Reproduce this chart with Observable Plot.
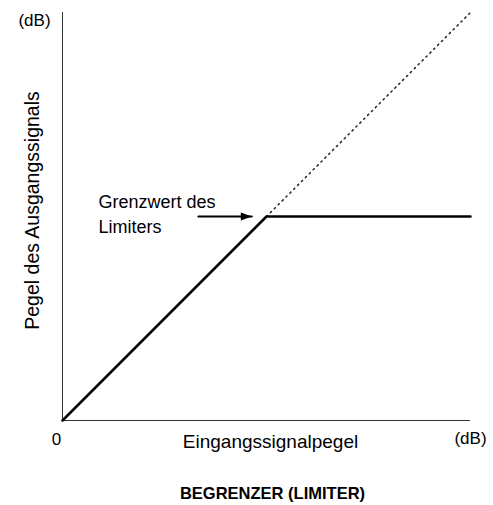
<!DOCTYPE html>
<html>
<head>
<meta charset="utf-8">
<script src="https://cdn.jsdelivr.net/npm/d3@7"></script>
<script src="https://cdn.jsdelivr.net/npm/@observablehq/plot@0.6"></script>
<style>
  html, body { margin: 0; padding: 0; background: #fff; }
</style>
</head>
<body>
<div id="chart"></div>
<script>
// Transfer curve of the limiter (input level -> output level, relative units)
const limiterInput  = [0, 50, 100];
const limiterOutput = [0, 50, 50];
// Unlimited (1:1) continuation above threshold
const unityInput  = [50, 100];
const unityOutput = [50, 100];
// Threshold point and annotation arrow
const thresholdInput = 50, thresholdOutput = 50;
const arrowStartInput = 33.3, arrowEndInput = 46.4;
const labels = {
  yTitle: "Pegel des Ausgangssignals",
  xTitle: "Eingangssignalpegel",
  unit: "(dB)",
  zero: "0",
  annotation: "Grenzwert des\nLimiters",
  title: "BEGRENZER (LIMITER)"
};

const curve = limiterInput.map((x, i) => ({x, y: limiterOutput[i]}));
const unity = unityInput.map((x, i) => ({x, y: unityOutput[i]}));
const arrowData = [{x: arrowStartInput, y: thresholdOutput}, {x: arrowEndInput, y: thresholdOutput}];

function filledArrow(color, context) {
  const m = d3.select(context.document.createElementNS("http://www.w3.org/2000/svg", "marker"))
    .attr("viewBox", "0 -5 10 10")
    .attr("refX", 10).attr("refY", 0)
    .attr("markerUnits", "userSpaceOnUse")
    .attr("markerWidth", 13).attr("markerHeight", 11)
    .attr("orient", "auto");
  m.append("path").attr("d", "M0,-3.6L10,0L0,3.6Z").attr("fill", color).attr("stroke", "none");
  return m.node();
}

const font = "'Liberation Sans', Arial, Helvetica, sans-serif";

const chart = Plot.plot({
  width: 493,
  height: 505,
  marginLeft: 62,
  marginRight: 23,
  marginTop: 12,
  marginBottom: 85,
  style: {fontFamily: font, background: "#fff", color: "#000"},
  x: {domain: [0, 100], axis: null},
  y: {domain: [0, 100], axis: null},
  marks: [
    Plot.ruleY([0], {x1: 0, x2: 100, stroke: "#333", strokeWidth: 1}),
    Plot.ruleX([0], {y1: 0, y2: 100, stroke: "#333", strokeWidth: 1}),
    Plot.line(unity, {x: "x", y: "y", stroke: "#222", strokeWidth: 1.5, strokeDasharray: "1.5,4"}),
    Plot.line(curve, {x: "x", y: "y", stroke: "#000", strokeWidth: 2.5, strokeLinejoin: "miter"}),
    Plot.line(arrowData, {x: "x", y: "y", stroke: "#000", strokeWidth: 2, markerEnd: filledArrow}),
    Plot.text([labels.annotation], {
      x: thresholdInput, y: thresholdOutput, dx: -168, dy: -4,
      textAnchor: "start", lineAnchor: "middle", lineHeight: 1.4, fontSize: 18, fill: "#000"
    }),
    Plot.text([labels.yTitle], {frameAnchor: "left", rotate: -90, dx: -30, dy: -6, fontSize: 19.5, textAnchor: "middle", lineAnchor: "middle", fill: "#000"}),
    Plot.text([labels.unit], {frameAnchor: "top-left", dx: -28, dy: 8, fontSize: 17, lineAnchor: "middle", textAnchor: "middle", fill: "#000"}),
    Plot.text([labels.zero], {frameAnchor: "bottom-left", dx: -6, dy: 19, fontSize: 17, lineAnchor: "middle", textAnchor: "middle", fill: "#000"}),
    Plot.text([labels.xTitle], {frameAnchor: "bottom", dx: 4, dy: 21, fontSize: 19, lineAnchor: "middle", textAnchor: "middle", fill: "#000"}),
    Plot.text([labels.unit], {frameAnchor: "bottom-right", dx: 0, dy: 18, fontSize: 17, lineAnchor: "middle", textAnchor: "middle", fill: "#000"}),
    Plot.text([labels.title], {frameAnchor: "bottom", dx: 6, dy: 73, fontSize: 16.5, fontWeight: "bold", lineAnchor: "middle", textAnchor: "middle", fill: "#000"})
  ]
});
document.getElementById("chart").appendChild(chart);
</script>
</body>
</html>
